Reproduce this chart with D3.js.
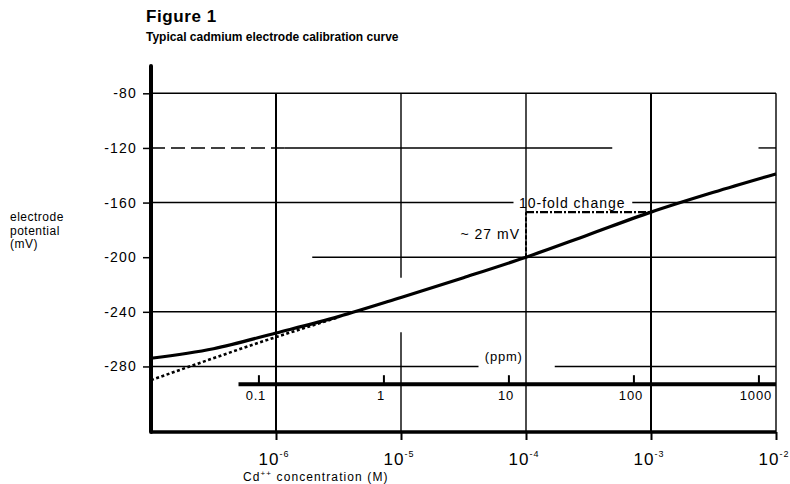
<!DOCTYPE html>
<html lang="en">
  <head>
  <meta charset="utf-8" />
  <title>Cadmium electrode calibration curve</title>
  <script src="https://cdn.jsdelivr.net/npm/d3@7"></script>
  <style>
    body { margin: 0; background: #fff; }
    svg text { font-family: "Liberation Sans", Arial, sans-serif; fill: #000; }
  </style>
  </head>
  <body>
    <div id="chart"></div>
    <script>
      "use strict";

      // concentration decades (M) and exponents shown below the axis
      let decades = [1e-7, 1e-6, 1e-5, 1e-4, 1e-3, 1e-2]
      let decadeExponents = ["-6", "-5", "-4", "-3", "-2"]
      let yTicks = [-80, -120, -160, -200, -240, -280]

      // measured calibration curve
      let measuredConc = [1e-7, 10**-6.5, 1e-6, 10**-5.5, 1e-5, 10**-4.5, 1e-4, 10**-3.5, 1e-3, 10**-2.5, 1e-2]
      let measuredMv   = [-274, -267, -255.5, -243.5, -229.5, -215, -200, -183.5, -167, -152.5, -139]

      // ideal (Nernstian) extrapolation, dotted
      let idealConc = [1e-7, 1e-6, 10**-5.5]
      let idealMv   = [-290, -258.5, -244]

      // ppm scale
      let ppmTicks = [0.1, 1, 10, 100, 1000]
      let ppmToMolar = 7.3e-6
      let ppmAxisMv = -293
      let ppmAxisStart = 10**-6.3

      // grid pieces, as drawn in the original figure: [mV, from conc, to conc, dashed]
      let hGrid = [
        [-80, 1e-7, 1e-2, false],
        [-120, 1e-7, 10**-5.93, true],
        [-120, 10**-5.93, 10**-3.31, false],
        [-120, 10**-2.14, 1e-2, false],
        [-160, 1e-7, 10**-4.1, false],
        [-160, 10**-3.15, 1e-2, false],
        [-200, 10**-5.71, 1e-2, false],
        [-240, 1e-7, 1e-2, false],
        [-280, 1e-7, 10**-4.38, false],
        [-280, 10**-3.77, 1e-2, false]
      ]
      // [conc, from mV, to mV]
      let vGrid = [
        [1e-6, -80, -328],
        [1e-5, -80, -215],
        [1e-5, -255, -328],
        [1e-4, -80, -328],
        [1e-3, -80, -328],
        [1e-2, -80, -328]
      ]

      // 10-fold change marker
      let foldConc = [1e-4, 1e-3]
      let foldMv = [-200, -167]

      let width = 790
      let height = 484

      let svg = d3.select("#chart").append("svg")
          .attr("width", width)
          .attr("height", height)

      let x = d3.scaleLog().domain([1e-7, 1e-2]).range([151, 776])
      let y = d3.scaleLinear().domain([-328, -60]).range([432, 66])

      // titles
      svg.append("text").attr("x", 146).attr("y", 22)
          .style("font-size", "17px").style("font-weight", "bold").style("letter-spacing", "0.6px")
          .text("Figure 1")
      svg.append("text").attr("x", 146).attr("y", 41)
          .style("font-size", "12px").style("font-weight", "bold")
          .text("Typical cadmium electrode calibration curve")

      // grid
      let grid = svg.append("g").attr("stroke", "#000").attr("stroke-width", 1.4)
      hGrid.forEach(h => {
        grid.append("line")
            .attr("x1", x(h[1])).attr("x2", x(h[2]))
            .attr("y1", y(h[0])).attr("y2", y(h[0]))
            .attr("stroke-dasharray", h[3] ? "14,6" : null)
      })
      vGrid.forEach(v => {
        grid.append("line")
            .attr("x1", x(v[0])).attr("x2", x(v[0]))
            .attr("y1", y(v[1])).attr("y2", y(v[2]))
            .attr("stroke-width", v[0] == 1e-6 || v[0] == 1e-3 ? 2 : 1.4)
      })

      // left axis
      let yAxis = g => g
          .attr("transform", `translate(${x(1e-7)},0)`)
          .call(d3.axisLeft(y).tickValues(yTicks).tickSize(8).tickPadding(6).tickFormat(d => d))
          .call(g => g.select(".domain").remove())
          .call(g => g.selectAll(".tick line").attr("stroke-width", 1.5))
          .call(g => g.selectAll(".tick text")
              .style("font-size", "14px").style("letter-spacing", "1.2px")
              .attr("font-family", null))
      svg.append("g").call(yAxis)

      svg.append("line")
          .attr("x1", x(1e-7)).attr("x2", x(1e-7))
          .attr("y1", y(-60)).attr("y2", y(-328))
          .attr("stroke", "#000").attr("stroke-width", 4).attr("stroke-linecap", "round")

      // bottom axis
      let xAxis = g => g
          .attr("transform", `translate(0,${y(-328)})`)
          .call(d3.axisBottom(x).tickValues(decades.slice(1)).tickSize(8).tickFormat(""))
          .call(g => g.select(".domain").remove())
          .call(g => g.selectAll(".tick line").attr("stroke-width", 2))
      svg.append("g").call(xAxis)

      svg.append("line")
          .attr("x1", x(1e-7)).attr("x2", x(1e-2))
          .attr("y1", y(-328)).attr("y2", y(-328))
          .attr("stroke", "#000").attr("stroke-width", 3.5)

      let decLabels = svg.append("g")
      decades.slice(1).forEach((d, i) => {
        let t = decLabels.append("text")
            .attr("x", x(d) - 2).attr("y", 465)
            .attr("text-anchor", "middle")
            .style("font-size", "17px").style("letter-spacing", "1px")
        t.append("tspan").text("10")
        t.append("tspan").attr("dy", -8).style("font-size", "9px").text(decadeExponents[i])
      })

      let xTitle = svg.append("text").attr("x", 243).attr("y", 481)
          .style("font-size", "12px").style("letter-spacing", "1.1px")
      xTitle.append("tspan").text("Cd")
      xTitle.append("tspan").attr("dy", -5).style("font-size", "8px").text("++")
      xTitle.append("tspan").attr("dy", 5).text(" concentration (M)")

      // y axis title
      let yTitle = svg.append("text").attr("x", 10).attr("y", 221)
          .style("font-size", "12px").style("letter-spacing", "0.5px")
      ;["electrode", "potential", "(mV)"].forEach((s, i) => {
        yTitle.append("tspan").attr("x", 10).attr("dy", i == 0 ? 0 : 13.5).text(s)
      })

      // ppm axis
      svg.append("line")
          .attr("x1", x(ppmAxisStart)).attr("x2", x(1e-2))
          .attr("y1", y(ppmAxisMv)).attr("y2", y(ppmAxisMv))
          .attr("stroke", "#000").attr("stroke-width", 4)
      ppmTicks.forEach(p => {
        let px = x(p * ppmToMolar)
        svg.append("line")
            .attr("x1", px).attr("x2", px)
            .attr("y1", y(ppmAxisMv)).attr("y2", y(ppmAxisMv) - 9)
            .attr("stroke", "#000").attr("stroke-width", 2)
        svg.append("text")
            .attr("x", px - 3).attr("y", y(ppmAxisMv) + 16)
            .attr("text-anchor", "middle")
            .style("font-size", "13px").style("letter-spacing", "0.8px")
            .text(p)
      })
      svg.append("text")
          .attr("x", x(10**-4.33)).attr("y", y(-280) - 5)
          .style("font-size", "13px").style("letter-spacing", "0.8px")
          .text("(ppm)")

      // curves
      let line = d3.line()
          .x(d => x(d[0]))
          .y(d => y(d[1]))
          .curve(d3.curveMonotoneX)

      svg.append("path")
          .datum(idealConc.map((c, i) => [c, idealMv[i]]))
          .attr("fill", "none")
          .attr("stroke", "#000")
          .attr("stroke-width", 2.6)
          .attr("stroke-dasharray", "3,2.5")
          .attr("d", line)

      svg.append("path")
          .datum(measuredConc.map((c, i) => [c, measuredMv[i]]))
          .attr("fill", "none")
          .attr("stroke", "#000")
          .attr("stroke-width", 3.2)
          .attr("stroke-linejoin", "round")
          .attr("d", line)

      // 10-fold change marker
      svg.append("line")
          .attr("x1", x(foldConc[0])).attr("x2", x(foldConc[0]))
          .attr("y1", y(foldMv[0])).attr("y2", y(foldMv[1]))
          .attr("stroke", "#000").attr("stroke-width", 2).attr("stroke-dasharray", "4,2")
      svg.append("line")
          .attr("x1", x(foldConc[0])).attr("x2", x(foldConc[1]))
          .attr("y1", y(foldMv[1])).attr("y2", y(foldMv[1]))
          .attr("stroke", "#000").attr("stroke-width", 2.2).attr("stroke-dasharray", "8,2,2,2")

      svg.append("text")
          .attr("x", x(10**-3.63)).attr("y", y(-160) + 5)
          .attr("text-anchor", "middle")
          .style("font-size", "14px").style("letter-spacing", "1px")
          .text("10-fold change")
      svg.append("text")
          .attr("x", x(foldConc[0]) - 6).attr("y", y(-184) + 4)
          .attr("text-anchor", "end")
          .style("font-size", "14px").style("letter-spacing", "1px")
          .text("~ 27 mV")
    </script>
  </body>
</html>
